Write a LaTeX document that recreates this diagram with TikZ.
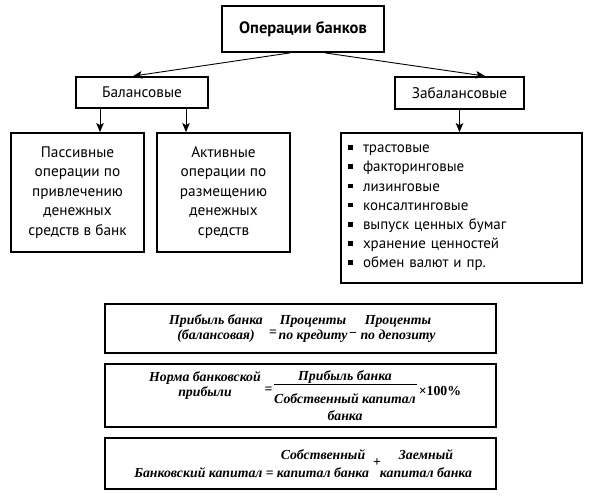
\documentclass[tikz,border=0pt]{standalone}
\usepackage{fontspec}
\setmainfont{PT Sans}
\newfontfamily\frm{Liberation Serif}
\usetikzlibrary{arrows.meta}
\newcommand\lbul{\makebox[15pt][l]{\rule[0.2em]{4.5pt}{4.5pt}}}
\begin{document}
\begin{tikzpicture}[x=1pt,y=-1pt,
  box/.style={draw,line width=1.8pt,inner sep=0pt,align=center},
  arr/.style={line width=0.9pt,-{Stealth[length=9pt,width=7.5pt,inset=2pt]}},
  sans/.style={font=\fontsize{15.3}{19.5}\selectfont},
  fm/.style={font=\frm\bfseries\itshape\fontsize{13.8}{15}\selectfont,inner sep=0pt,align=center},
  fu/.style={font=\frm\bfseries\fontsize{13.8}{15}\selectfont,inner sep=0pt}]
\useasboundingbox (0,0) rectangle (589,503);
% tree
\node[box,minimum width=162pt,minimum height=46pt,font=\bfseries\fontsize{16.5}{18}\selectfont] (top) at (303,29) {Операции банков};
\node[box,sans,minimum width=132pt,minimum height=31pt] (bal) at (142,92.5) {Балансовые};
\node[box,sans,minimum width=129pt,minimum height=32pt] (zab) at (459.5,93) {Забалансовые};
\node[box,sans,minimum width=133pt,minimum height=119pt] (pass) at (77.5,192.5) {Пассивные\\операции по\\привлечению\\денежных\\средств в банк};
\node[box,sans,minimum width=133pt,minimum height=119pt] (act) at (223.5,192.5) {Активные\\операции по\\размещению\\денежных\\средств};
\node[box,minimum width=241pt,minimum height=150pt,text width=227pt,align=left,font=\fontsize{15}{19.2}\selectfont] (list) at (461.5,208) {\lbul трастовые\\\lbul факторинговые\\\lbul лизинговые\\\lbul консалтинговые\\\lbul выпуск ценных бумаг\\\lbul хранение ценностей\\\lbul обмен валют и пр.};
\draw[arr] ([xshift=-13pt]top.south) -- ([xshift=-9pt]bal.north);
\draw[arr] ([xshift=22pt]top.south) -- ([xshift=25.5pt]zab.north);
\draw[arr] ([xshift=-42pt]bal.south) -- ([xshift=22.5pt]pass.north);
\draw[arr] ([xshift=44pt]bal.south) -- ([xshift=-37.5pt]act.north);
\draw[arr] (zab.south) -- (zab.south |- list.north);
% formula boxes
\node[box,minimum width=391pt,minimum height=49pt] (f1) at (300.5,328.5) {};
\node[box,minimum width=391pt,minimum height=63pt] (f2) at (300.5,395.5) {};
\node[box,minimum width=391pt,minimum height=51pt] (f3) at (300.5,463.5) {};
% formula 1
\node[fm] (p1) at (216,329) {Прибыль банка\\(балансовая)};
\node[fu] (p1eq) at (273,333) {=};
\node[fm] (p2) at (313,329) {Проценты\\по кредиту};
\node[fu] (p2mi) at (353,335) {−};
\node[fm] (p3) at (398,329) {Проценты\\по депозиту};
% formula 2
\node[fm] (q1) at (205,385.5) {Норма банковской\\прибыли};
\node[fu] (q1eq) at (268.5,390) {=};
\node[fm] (q2) at (345,377) {Прибыль банка};
\draw[line width=1pt] (274,384) -- (417,384);
\node[fm,font=\frm\bfseries\itshape\fontsize{13.8}{17}\selectfont] (q3) at (345,407.5) {Собственный капитал\\банка};
\node[fu] (q4) at (440,391) {×100\%};
% formula 3
\node[fm,anchor=east] (r1) at (274,473) {Банковский капитал {\upshape=}};
\node[fm,font=\frm\bfseries\itshape\fontsize{13.8}{18}\selectfont] (r2) at (323,464) {Собственный\\капитал банка};
\node[fu] (r2pl) at (377,463) {+};
\node[fm,font=\frm\bfseries\itshape\fontsize{13.8}{18}\selectfont] (r3) at (426,464) {Заемный\\капитал банка};
\end{tikzpicture}
\end{document}
